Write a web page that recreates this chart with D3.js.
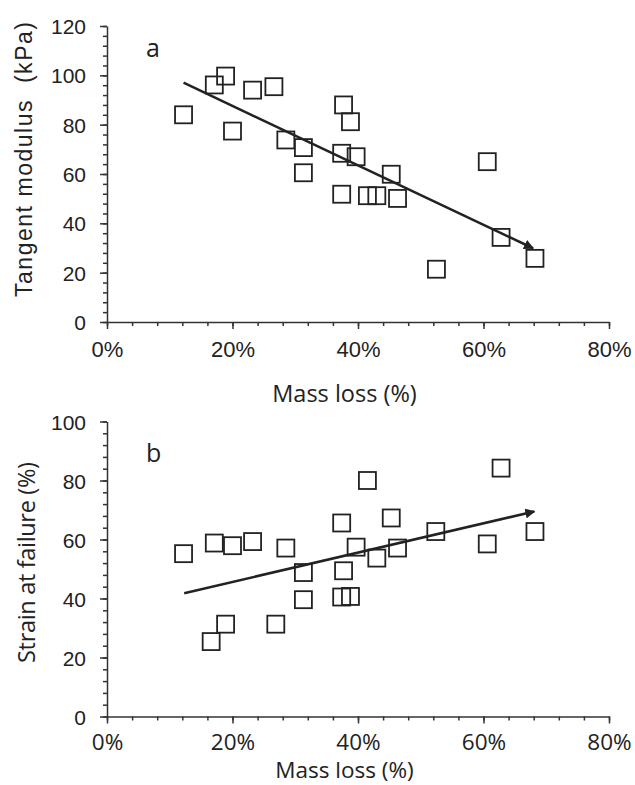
<!DOCTYPE html>
<html>
<head>
<meta charset="utf-8">
<script src="https://cdn.jsdelivr.net/npm/d3@7"></script>
<style>
  body { margin: 0; background: #fff; }
  svg { display: block; }
</style>
</head>
<body>
<div id="chart"></div>
<script>
// panel a: tangent modulus vs mass loss
var topX = [12.2, 17.1, 18.9, 20.0, 23.2, 26.6, 28.5, 31.3, 31.3, 37.7, 38.8, 37.4, 39.7, 45.3, 37.4, 41.5, 43.0, 46.3, 60.6, 62.8, 68.2, 52.5];
var topY = [84.0, 96.1, 99.7, 77.4, 94.0, 95.4, 73.8, 70.7, 60.5, 88.0, 81.2, 68.4, 67.0, 59.9, 51.8, 51.2, 51.2, 50.1, 65.0, 34.3, 25.8, 21.4];
var topTrend = [[12.2, 97.0], [67.9, 29.9]];

// panel b: strain at failure vs mass loss
var botX = [12.2, 17.1, 20.0, 23.2, 28.5, 31.3, 31.3, 16.6, 18.9, 26.9, 62.8, 41.5, 37.4, 45.3, 52.4, 68.2, 60.6, 39.7, 46.3, 43.0, 37.7, 37.4, 38.8];
var botY = [55.2, 58.8, 57.9, 59.3, 57.1, 48.8, 39.6, 25.4, 31.3, 31.3, 84.2, 80.0, 65.6, 67.3, 62.7, 62.7, 58.5, 57.4, 57.1, 53.7, 49.4, 40.5, 40.7];
var botTrend = [[12.3, 41.8], [68.1, 69.5]];

var xTicks = [0, 20, 40, 60, 80];
var topYTicks = [0, 20, 40, 60, 80, 100, 120];
var botYTicks = [0, 20, 40, 60, 80, 100];

var W = 635, H = 785;
var ink = '#222';
var svg = d3.select('#chart').append('svg')
  .attr('width', W).attr('height', H);

svg.append('defs').append('marker')
  .attr('id', 'arrow')
  .attr('viewBox', '0 0 10 10')
  .attr('refX', 9).attr('refY', 5)
  .attr('markerWidth', 4).attr('markerHeight', 4)
  .attr('markerUnits', 'strokeWidth')
  .attr('orient', 'auto')
  .append('path')
  .attr('d', 'M0,0L10,5L0,10z')
  .attr('fill', ink);

var x = d3.scaleLinear().domain([0, 80]).range([107, 609]);

function panel(opts) {
  var y = d3.scaleLinear().domain([0, opts.ymax]).range([opts.bottom, opts.top]);
  var g = svg.append('g');

  // minor ticks
  g.append('g')
    .attr('transform', 'translate(0,' + opts.bottom + ')')
    .call(d3.axisBottom(x).tickValues(d3.range(0, 81, 4)).tickSize(4).tickFormat(''))
    .call(function(a) { a.select('.domain').remove(); });
  g.append('g')
    .attr('transform', 'translate(107,0)')
    .call(d3.axisLeft(y).tickValues(d3.range(0, opts.ymax + 1, 4)).tickSize(4).tickFormat(''))
    .call(function(a) { a.select('.domain').remove(); });

  // major axes
  var xa = g.append('g')
    .attr('transform', 'translate(0,' + opts.bottom + ')')
    .call(d3.axisBottom(x).tickValues(xTicks).tickSize(7).tickSizeOuter(0)
      .tickFormat(function(d) { return d + '%'; }));
  xa.selectAll('text')
    .attr('y', opts.xLabelDy).attr('dy', 0)
    .style('font-family', opts.xFont).style('font-size', opts.xFontSize + 'px')
    .attr('fill', ink);

  var ya = g.append('g')
    .attr('transform', 'translate(107,0)')
    .call(d3.axisLeft(y).tickValues(opts.yTicks).tickSize(7).tickSizeOuter(0));
  ya.selectAll('text')
    .attr('x', -21).attr('dy', '0.36em')
    .style('font-family', 'Liberation Sans, Arial, sans-serif').style('font-size', '21px')
    .attr('fill', ink);

  g.selectAll('.domain, .tick line').attr('stroke', '#333').attr('stroke-width', 1.5);

  // points
  g.selectAll('rect.pt')
    .data(opts.xs.map(function(d, i) { return [d, opts.ys[i]]; }))
    .enter().append('rect')
    .attr('class', 'pt')
    .attr('x', function(d) { return x(d[0]) - 8.5; })
    .attr('y', function(d) { return y(d[1]) - 8.5; })
    .attr('width', 17).attr('height', 17)
    .attr('fill', 'none').attr('stroke', ink).attr('stroke-width', 1.8);

  // trend arrow
  g.append('path')
    .attr('d', d3.line().x(function(d) { return x(d[0]); }).y(function(d) { return y(d[1]); })(opts.trend))
    .attr('fill', 'none').attr('stroke', ink).attr('stroke-width', 2.5)
    .attr('marker-end', 'url(#arrow)');

  // panel letter
  g.append('text')
    .attr('x', 146).attr('y', opts.letterY)
    .style('font-family', 'Open Sans, sans-serif').style('font-size', '25px')
    .attr('fill', ink)
    .text(opts.letter);

  // axis titles
  g.append('text')
    .attr('x', 344.5).attr('y', opts.xTitleY)
    .attr('text-anchor', 'middle')
    .style('font-family', 'Open Sans, sans-serif').style('font-size', opts.xTitleSize + 'px')
    .attr('fill', ink)
    .text('Mass loss (%)');

  g.append('text')
    .attr('transform', 'translate(' + opts.yTitleX + ',' + opts.yTitleY + ') rotate(-90)')
    .attr('text-anchor', 'middle')
    .style('font-family', opts.yTitleFont).style('font-size', opts.yTitleSize + 'px')
    .style('white-space', 'pre')
    .attr('textLength', opts.yTitleLen).attr('lengthAdjust', 'spacing')
    .attr('fill', ink)
    .text(opts.yTitle);
}

panel({
  top: 26, bottom: 322, ymax: 120, yTicks: topYTicks,
  xs: topX, ys: topY, trend: topTrend,
  xFont: 'Liberation Sans, Arial, sans-serif', xFontSize: 22, xLabelDy: 34.5,
  letter: 'a', letterY: 57,
  xTitleY: 402, xTitleSize: 23.5,
  yTitle: 'Tangent modulus  (kPa)', yTitleX: 32, yTitleY: 159.5, yTitleSize: 23, yTitleLen: 275,
  yTitleFont: 'Liberation Sans, Arial, sans-serif'
});

panel({
  top: 421.5, bottom: 716.5, ymax: 100, yTicks: botYTicks,
  xs: botX, ys: botY, trend: botTrend,
  xFont: 'Open Sans, sans-serif', xFontSize: 22.5, xLabelDy: 33.5,
  letter: 'b', letterY: 462,
  xTitleY: 778, xTitleSize: 22.5,
  yTitle: 'Strain at failure (%)', yTitleX: 35, yTitleY: 562.5, yTitleSize: 23.5, yTitleLen: 201,
  yTitleFont: 'Open Sans, sans-serif'
});
</script>
</body>
</html>
